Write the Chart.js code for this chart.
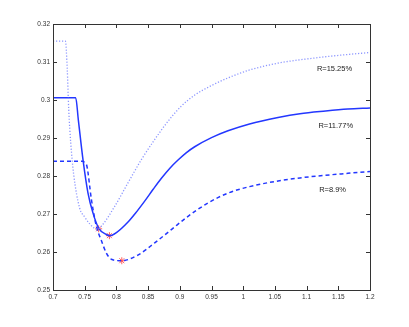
<!DOCTYPE html>
<html>
<head>
<meta charset="utf-8">
<script src="https://cdn.jsdelivr.net/npm/chart.js@4"></script>
<style>
  html, body { margin: 0; padding: 0; background: #fff; }
  #wrap { width: 409px; height: 327px; }
</style>
</head>
<body>
<div id="wrap"><canvas id="c"></canvas></div>
<script>
// R = 15.25% (dotted)
const xHigh = [0.70, 0.7195, 0.7225, 0.7248, 0.728, 0.7327, 0.742, 0.750, 0.758, 0.765, 0.770, 0.7763, 0.7973, 0.8183, 0.8394, 0.8604, 0.8814, 0.9025, 0.9235, 0.950, 0.976, 1.010, 1.055, 1.115, 1.160, 1.200];
const yHigh = [0.3155, 0.3155, 0.3080, 0.2975, 0.2887, 0.2803, 0.2716, 0.2692, 0.2674, 0.2663, 0.2660, 0.2668, 0.2720, 0.2782, 0.2843, 0.2896, 0.2944, 0.2984, 0.3013, 0.3038, 0.3058, 0.3079, 0.3097, 0.3111, 0.3119, 0.3125];
// R = 11.77% (solid)
const xMid = [0.70, 0.7358, 0.7400, 0.7473, 0.7552, 0.763, 0.772, 0.7842, 0.7894, 0.800, 0.8183, 0.830, 0.8446, 0.858, 0.871, 0.884, 0.8972, 0.910, 0.9235, 0.950, 0.976, 1.010, 1.055, 1.0895, 1.130, 1.165, 1.200];
const yMid = [0.3006, 0.3006, 0.2947, 0.2843, 0.2755, 0.2703, 0.2663, 0.2646, 0.2643, 0.2651, 0.2679, 0.2702, 0.2734, 0.2765, 0.2794, 0.2820, 0.2842, 0.2861, 0.2877, 0.2901, 0.2919, 0.2937, 0.2954, 0.2964, 0.2971, 0.2976, 0.2979];
// R = 8.9% (dashed)
const xLow = [0.70, 0.7473, 0.7505, 0.7536, 0.7606, 0.7685, 0.7763, 0.7842, 0.792, 0.8079, 0.834, 0.8604, 0.8867, 0.913, 0.9445, 0.976, 1.010, 1.055, 1.0895, 1.130, 1.165, 1.200];
const yLow = [0.2839, 0.2839, 0.2834, 0.2825, 0.2738, 0.2667, 0.2630, 0.2597, 0.2581, 0.2577, 0.2592, 0.2624, 0.2659, 0.2694, 0.2729, 0.2755, 0.2772, 0.2787, 0.2795, 0.2802, 0.2807, 0.2812];
// minima markers
const xMin = [0.772, 0.789, 0.8085];
const yMin = [0.2661, 0.2643, 0.2577];
// curve labels
const labelText = ['R=15.25%', 'R=11.77%', 'R=8.9%'];
const labelX = [1.144, 1.146, 1.141];
const labelY = [0.3082, 0.2932, 0.2764];

const xTicks = [0.7, 0.75, 0.8, 0.85, 0.9, 0.95, 1, 1.05, 1.1, 1.15, 1.2];
const yTicks = [0.25, 0.26, 0.27, 0.28, 0.29, 0.3, 0.31, 0.32];

const pts = (xs, ys) => xs.map((x, i) => ({ x: x, y: ys[i] }));
const fmt = v => String(+(+v).toFixed(2));
const BLUE = 'rgb(35,55,255)';

// box + inward ticks on all four sides, curve labels
const matlabBox = {
    id: 'matlabBox',
    afterDraw(chart) {
        const { ctx, chartArea: a, scales } = chart;
        ctx.save();
        ctx.strokeStyle = '#333';
        ctx.lineWidth = 1;
        ctx.strokeRect(a.left + 0.5, a.top + 0.5, a.right - a.left, a.bottom - a.top);
        ctx.beginPath();
        xTicks.forEach(v => {
            const px = Math.round(scales.x.getPixelForValue(v)) + 0.5;
            ctx.moveTo(px, a.bottom); ctx.lineTo(px, a.bottom - 4);
            ctx.moveTo(px, a.top); ctx.lineTo(px, a.top + 4);
        });
        yTicks.forEach(v => {
            const py = Math.round(scales.y.getPixelForValue(v)) + 0.5;
            ctx.moveTo(a.left, py); ctx.lineTo(a.left + 4, py);
            ctx.moveTo(a.right, py); ctx.lineTo(a.right - 4, py);
        });
        ctx.stroke();
        ctx.fillStyle = '#222';
        ctx.font = '7.5px "Liberation Sans", Arial, sans-serif';
        ctx.textAlign = 'center';
        ctx.textBaseline = 'middle';
        labelText.forEach((t, i) => {
            ctx.fillText(t, scales.x.getPixelForValue(labelX[i]), scales.y.getPixelForValue(labelY[i]));
        });
        ctx.restore();
    }
};

const tickFont = { family: '"Liberation Sans", Arial, sans-serif', size: 6.5 };

new Chart(document.getElementById('c'), {
    type: 'line',
    data: {
        datasets: [
            { data: pts(xHigh, yHigh), borderColor: 'rgb(140,150,255)', borderWidth: 1.3, borderDash: [1.2, 1.8], pointRadius: 0, cubicInterpolationMode: 'monotone' },
            { data: pts(xMid, yMid), borderColor: BLUE, borderWidth: 1.5, pointRadius: 0, cubicInterpolationMode: 'monotone' },
            { data: pts(xLow, yLow), borderColor: BLUE, borderWidth: 1.5, borderDash: [4, 3], pointRadius: 0, cubicInterpolationMode: 'monotone' },
            { type: 'scatter', data: pts(xMin, yMin), pointStyle: 'star', pointRadius: 3.5, borderColor: 'rgba(255,70,70,0.85)', borderWidth: 1, backgroundColor: 'transparent' }
        ]
    },
    options: {
        responsive: true, maintainAspectRatio: false, animation: false,
        layout: { padding: { top: 24, right: 39, left: 0, bottom: 0 } },
        plugins: { legend: { display: false }, tooltip: { enabled: false } },
        scales: {
            x: {
                type: 'linear', min: 0.7, max: 1.2,
                afterBuildTicks: s => { s.ticks = xTicks.map(v => ({ value: v })); },
                afterFit: s => { s.height = 37; },
                grid: { display: false, drawTicks: false },
                border: { display: false },
                ticks: { font: tickFont, color: '#333', padding: 3, maxRotation: 0, autoSkip: false, callback: fmt }
            },
            y: {
                type: 'linear', min: 0.25, max: 0.32,
                afterBuildTicks: s => { s.ticks = yTicks.map(v => ({ value: v })); },
                afterFit: s => { s.width = 53; },
                grid: { display: false, drawTicks: false },
                border: { display: false },
                ticks: { font: tickFont, color: '#333', padding: 3, autoSkip: false, callback: fmt }
            }
        }
    },
    plugins: [matlabBox]
});
</script>
</body>
</html>
